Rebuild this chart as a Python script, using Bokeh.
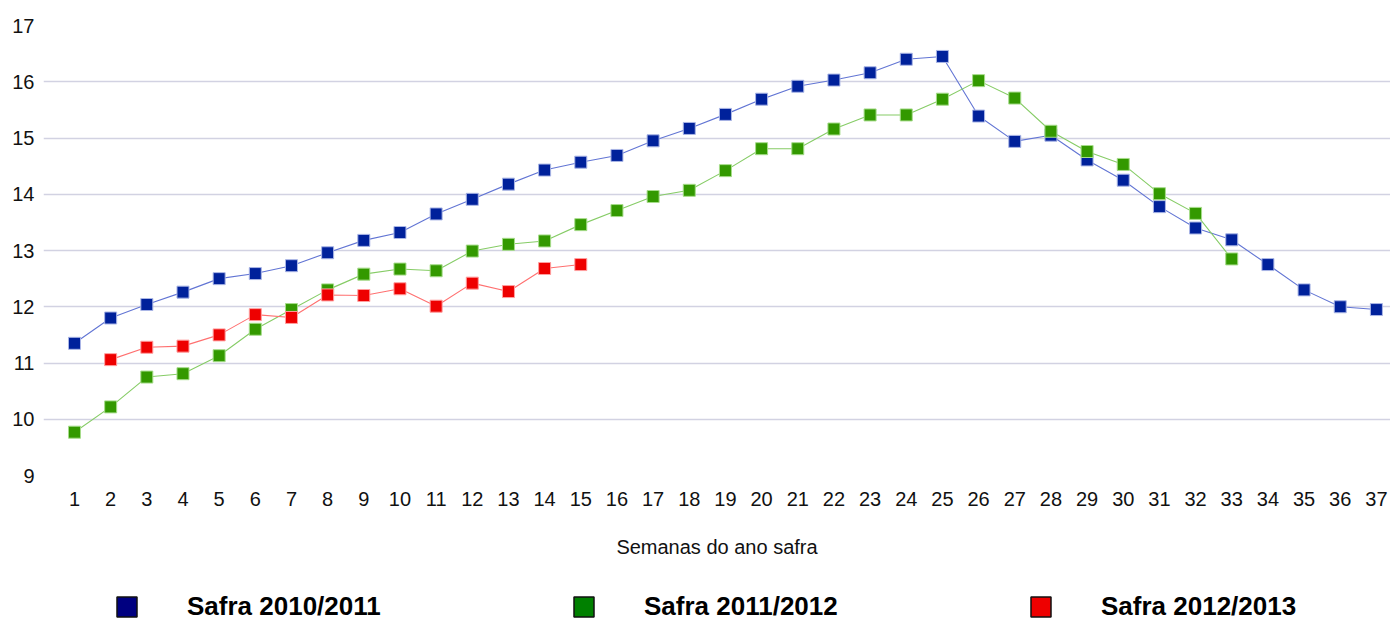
from bokeh.plotting import figure
from bokeh.models import Legend, LegendItem, FixedTicker, Range1d
from bokeh.layouts import column
from bokeh.embed import file_html
from bokeh.resources import INLINE

weeks_blue = list(range(1, 38))
safra_2010 = [11.35, 11.80, 12.04, 12.26, 12.50, 12.59, 12.73, 12.96, 13.18, 13.32,
              13.65, 13.91, 14.18, 14.43, 14.57, 14.69, 14.95, 15.17, 15.42, 15.69,
              15.92, 16.03, 16.16, 16.40, 16.45, 15.39, 14.94, 15.05, 14.61, 14.25,
              13.78, 13.40, 13.19, 12.75, 12.30, 12.00, 11.95]

weeks_green = list(range(1, 34))
safra_2011 = [9.77, 10.22, 10.75, 10.81, 11.13, 11.60, 11.95, 12.30, 12.58, 12.67,
              12.64, 12.99, 13.11, 13.17, 13.46, 13.71, 13.96, 14.07, 14.42, 14.81,
              14.81, 15.16, 15.41, 15.41, 15.69, 16.02, 15.71, 15.12, 14.76, 14.53,
              14.01, 13.66, 12.85]

weeks_red = list(range(2, 16))
safra_2012 = [11.06, 11.28, 11.30, 11.50, 11.86, 11.81, 12.21, 12.20, 12.32, 12.01,
              12.42, 12.27, 12.68, 12.75]

x_ticks = list(range(1, 38))
y_ticks = list(range(9, 18))
legend_labels = ["Safra 2010/2011", "Safra 2011/2012", "Safra 2012/2013"]
x_label = "Semanas do ano safra"

FONT = "Liberation Sans"

p = figure(width=1390, height=562, output_backend="svg", toolbar_location=None,
           x_range=Range1d(0.143, 37.39), y_range=Range1d(9, 17),
           min_border_left=43, min_border_right=0, min_border_top=25, min_border_bottom=87)
p.outline_line_color = None
p.background_fill_color = "white"
p.border_fill_color = "white"

p.xgrid.grid_line_color = None
p.ygrid.grid_line_color = "#d2d2e2"
p.ygrid.grid_line_width = 1.3
p.ygrid.ticker = FixedTicker(ticks=y_ticks)

for ax in (p.xaxis[0], p.yaxis[0]):
    ax.axis_line_color = None
    ax.major_tick_line_color = None
    ax.minor_tick_line_color = None
    ax.major_label_text_font = FONT
    ax.major_label_text_font_size = "20px"
    ax.major_label_text_color = "#111111"

p.xaxis.ticker = FixedTicker(ticks=x_ticks)
p.yaxis.ticker = FixedTicker(ticks=y_ticks)
p.xaxis.major_label_standoff = 10
p.yaxis.major_label_standoff = 3
p.xaxis.axis_label = x_label
p.xaxis.axis_label_text_font = FONT
p.xaxis.axis_label_text_font_style = "normal"
p.xaxis.axis_label_text_font_size = "20px"
p.xaxis.axis_label_text_color = "#111111"
p.xaxis.axis_label_standoff = 27

series = [
    (weeks_blue, safra_2010, "#00219b", "#6275d4", "#aab6e6"),
    (weeks_green, safra_2011, "#339900", "#86cc66", "#a6dc8a"),
    (weeks_red, safra_2012, "#ee0000", "#ff7070", "#ff9f9f"),
]
for xs, ys, fill, line, edge in series:
    p.line(xs, ys, line_color=line, line_width=1.1)
for xs, ys, fill, line, edge in series:
    p.scatter(xs, ys, marker="square", size=12, fill_color=fill, line_color=edge, line_width=1)

# legend strip
lg = figure(width=1390, height=60, output_backend="svg", toolbar_location=None,
            x_axis_location=None, y_axis_location=None, min_border=0,
            x_range=Range1d(0, 1), y_range=Range1d(0, 1))
lg.outline_line_color = None
lg.xgrid.visible = False
lg.ygrid.visible = False

legend_fills = ["#000080", "#008000", "#ee0000"]
items = []
for lab, col in zip(legend_labels, legend_fills):
    # invisible proxy glyph, only used to draw the legend swatch
    r = lg.quad(left=[0], right=[0], top=[0], bottom=[0], fill_color=col,
                line_color="#111111", line_width=1.5, visible=False)
    items.append(LegendItem(label=lab, renderers=[r]))

legend = Legend(items=items, orientation="horizontal", glyph_width=25, glyph_height=25,
                label_standoff=48, label_width=384, spacing=0, padding=0, margin=0,
                border_line_color=None, background_fill_alpha=0,
                label_text_font=FONT, label_text_font_style="bold",
                label_text_font_size="26px", label_text_color="#000000",
                click_policy="none", inactive_fill_alpha=0,
                location=(71, 0))
lg.add_layout(legend, "center")

layout = column(p, lg, spacing=0)
open("out.html", "w").write(file_html(layout, INLINE))
